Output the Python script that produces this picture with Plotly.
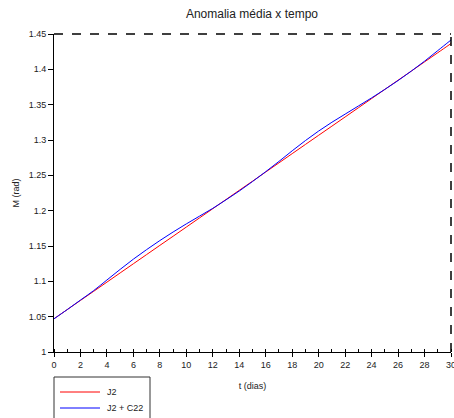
import plotly.graph_objects as go

t_days = list(range(0, 31))
m_j2 = [1.0470, 1.0600, 1.0730, 1.0859, 1.0989, 1.1119, 1.1249, 1.1379, 1.1509, 1.1638,
        1.1768, 1.1898, 1.2028, 1.2158, 1.2288, 1.2417, 1.2547, 1.2677, 1.2807, 1.2937,
        1.3067, 1.3196, 1.3326, 1.3456, 1.3586, 1.3716, 1.3846, 1.3975, 1.4105, 1.4235,
        1.4365]
m_j2_c22 = [1.0470, 1.0600, 1.0735, 1.0869, 1.1019, 1.1169, 1.1314, 1.1449, 1.1577, 1.1698,
            1.1813, 1.1923, 1.2033, 1.2153, 1.2278, 1.2412, 1.2552, 1.2697, 1.2847, 1.2992,
            1.3127, 1.3251, 1.3366, 1.3481, 1.3596, 1.3716, 1.3841, 1.3975, 1.4115, 1.4265,
            1.4415]
series_names = ["J2", "J2 + C22"]
series_colors = ["#ff0000", "#0000ff"]

font_family = "Liberation Sans, Arial, sans-serif"

fig = go.Figure()
for name, color, vals in zip(series_names, series_colors, [m_j2, m_j2_c22]):
    fig.add_trace(go.Scatter(x=t_days, y=vals, mode="lines", name=name, showlegend=False,
                             line=dict(color=color, width=1, shape="spline")))

fig.update_layout(
    width=454, height=418,
    margin=dict(l=54, r=3, t=34, b=66, autoexpand=False),
    paper_bgcolor="white", plot_bgcolor="white",
    font=dict(family=font_family, size=9, color="#222222"),
    title=dict(text="Anomalia média x tempo", x=0.555, xanchor="center", y=0.966, yanchor="middle",
               font=dict(size=12, color="#222222")),
    showlegend=False,
    xaxis=dict(range=[0, 30], dtick=2, showgrid=False, zeroline=False,
               showline=True, linecolor="black", linewidth=1,
               ticks="outside", ticklen=4, tickcolor="black",
               ticklabeloverflow="allow", automargin=False,
               minor=dict(dtick=1, ticks="inside", ticklen=3, tickcolor="black"),
               title=dict(text="t (dias)", font=dict(size=9), standoff=13),
               tickfont=dict(size=9)),
    yaxis=dict(range=[1, 1.45], dtick=0.05, showgrid=False, zeroline=False,
               showline=True, linecolor="black", linewidth=1,
               ticks="outside", ticklen=5, tickcolor="black", automargin=False,
               title=dict(text="M (rad)", font=dict(size=9), standoff=7),
               tickfont=dict(size=9)),
)

# frame: dashed top and right
fig.add_shape(type="line", xref="paper", yref="paper", x0=0, x1=1, y0=1, y1=1,
              line=dict(color="black", width=1.5, dash="dash"))
fig.add_shape(type="line", xref="paper", yref="paper", x0=1, x1=1, y0=0, y1=1,
              line=dict(color="black", width=1.5, dash="dash"))

# legend box (drawn below the plot, partly cut by the page edge)
plot_h = 318.0
plot_w = 397.0
fig.add_shape(type="rect", xref="paper", yref="paper",
              x0=0, x1=96 / plot_w, y0=-25 / plot_h, y1=-75 / plot_h,
              line=dict(color="#333333", width=1), fillcolor="white", layer="above")
for i, (name, color) in enumerate(zip(series_names, series_colors)):
    yy = -(40 + 16 * i) / plot_h
    fig.add_shape(type="line", xref="paper", yref="paper",
                  x0=6 / plot_w, x1=46 / plot_w, y0=yy, y1=yy,
                  line=dict(color=color, width=1), layer="above")
    fig.add_annotation(xref="paper", yref="paper", x=51 / plot_w, y=yy, text=name,
                       showarrow=False, xanchor="left", yanchor="middle",
                       font=dict(size=9, color="#222222"))

fig.write_html("out.html")
